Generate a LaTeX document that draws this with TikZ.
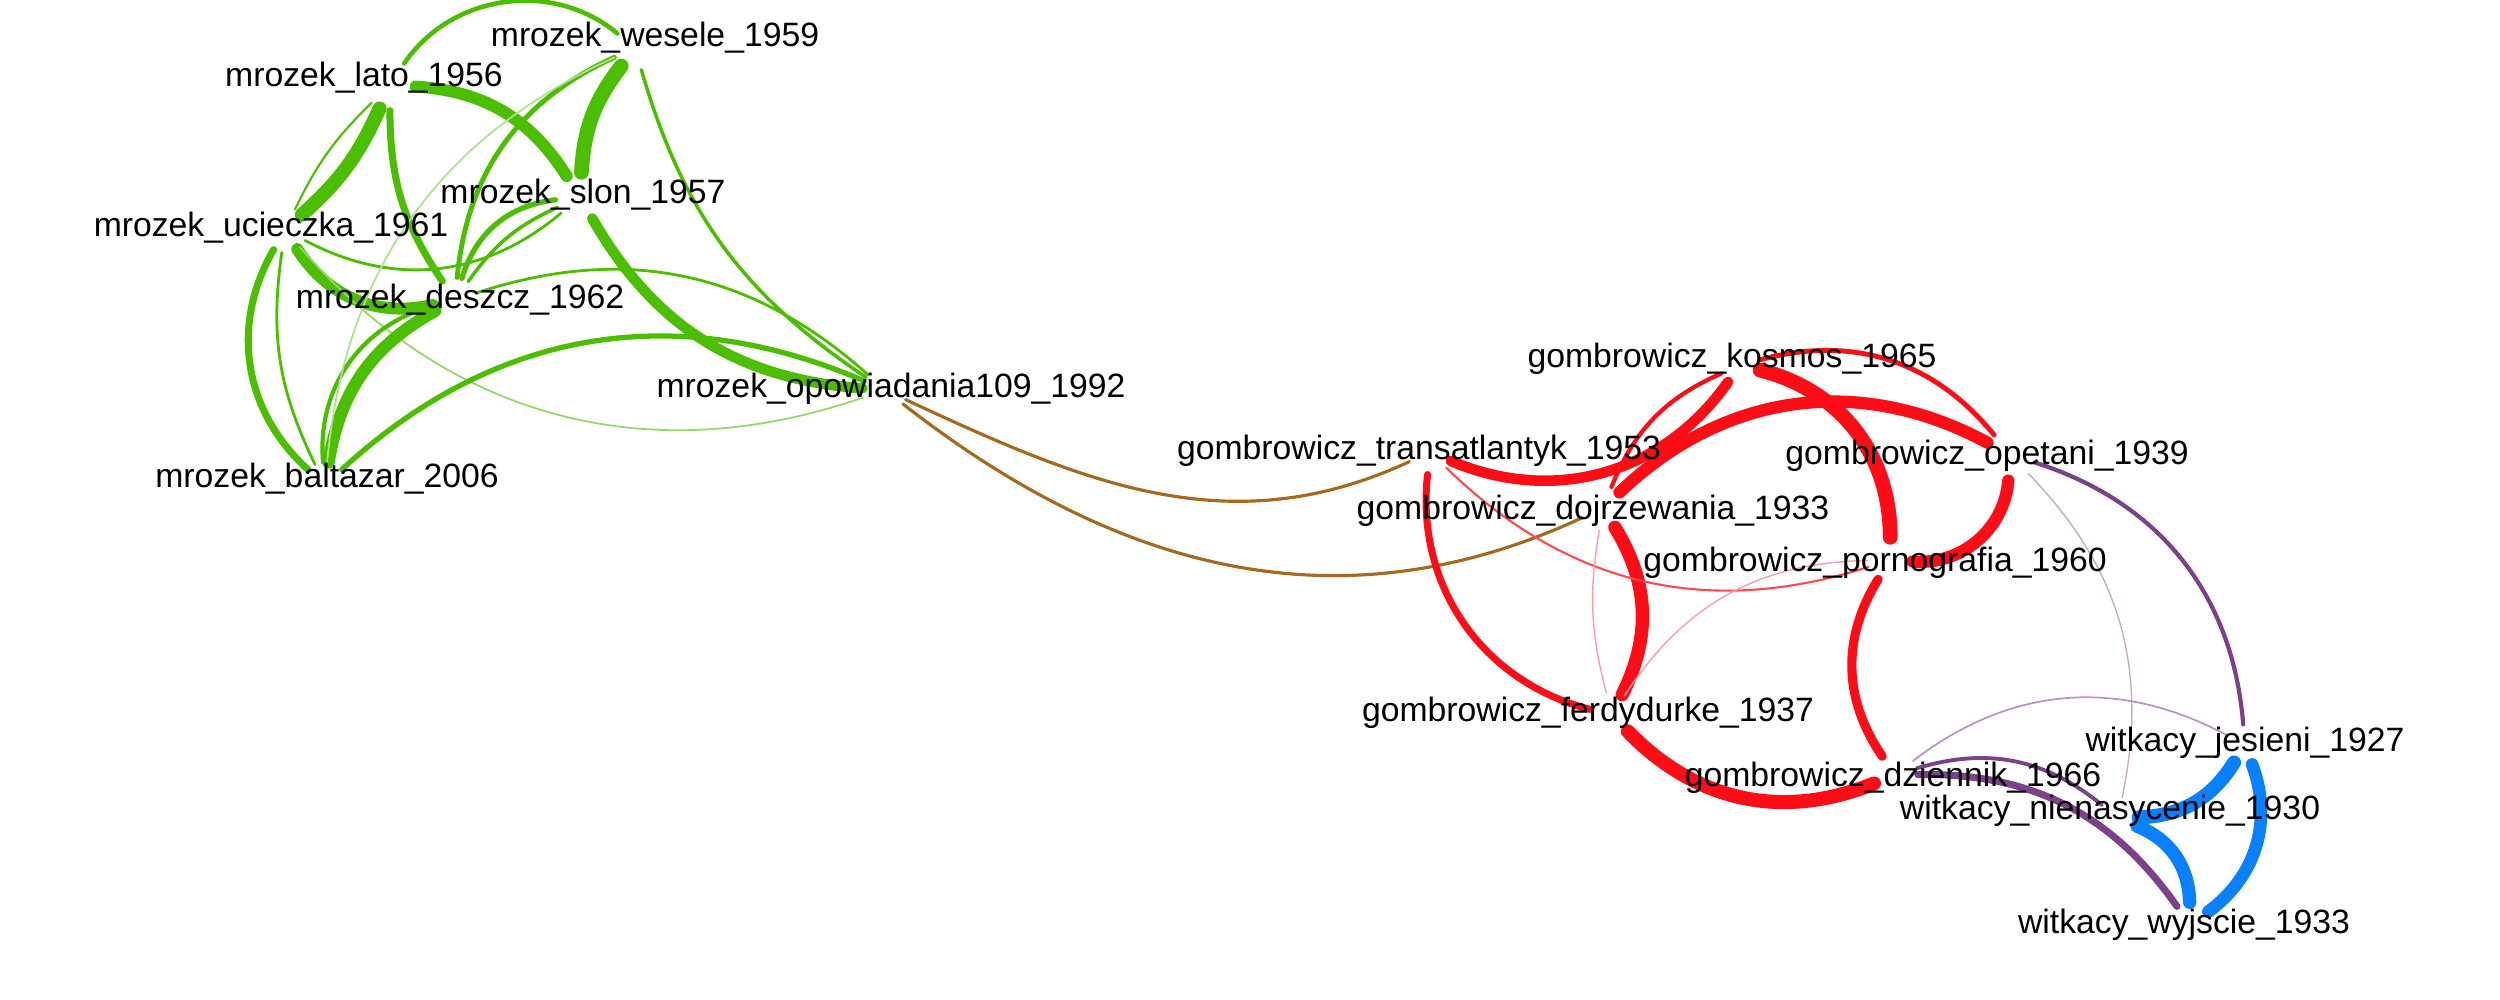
\documentclass[tikz,border=0pt]{standalone}
\usepackage{fontspec}
\setmainfont{Liberation Sans}
\usetikzlibrary{positioning}
\definecolor{mgreen}{RGB}{76,190,0}
\definecolor{gred}{RGB}{255,13,23}
\definecolor{linkbrown}{RGB}{166,105,30}
\definecolor{wpurple}{RGB}{125,65,140}
\definecolor{wblue}{RGB}{10,128,255}
\tikzset{lbl/.style={font=\fontsize{9.6}{11}\selectfont, inner sep=0pt},
    vtx/.style={circle, inner sep=0pt, minimum size=#1}, vtx/.default=0.44cm}

\begin{document}
\begin{tikzpicture}[line cap=round]
    \useasboundingbox (0,0) rectangle (25,-10);
    \path (6.35,-0.48) node [vtx] (wesele) {} (3.90,-0.85) node [vtx=0.5cm] (lato) {}
	(5.80,-1.97) node [vtx=0.48cm] (slon) {} (2.85,-2.30) node [vtx] (ucieczka) {}
	(4.55,-3.00) node [vtx] (deszcz) {} (8.85,-3.90) node [vtx] (opow) {}
	(3.25,-4.85) node [vtx] (baltazar) {};
    \path (17.40,-3.65) node [vtx=0.4cm] (kosmos) {} (14.30,-4.52) node [vtx] (trans) {}
	(20.10,-4.55) node [vtx=0.5cm] (opetani) {} (16.03,-5.08) node [vtx] (dojrz) {}
	(18.90,-5.60) node [vtx] (porno) {} (16.12,-7.15) node [vtx] (ferdy) {}
	(18.95,-7.75) node [vtx] (dziennik) {};
    \path (22.45,-7.45) node [vtx=0.4cm] (jesieni) {} (21.18,-8.18) node [vtx=0.4cm] (nienas) {}
	(21.90,-9.25) node [vtx] (wyjscie) {};

    \draw [mgreen, line width=1.3pt] (lato) to [bend left=48] (wesele);
    \draw [mgreen, line width=3.4pt] (lato) to [bend left=27] (slon);
    \draw [mgreen, line width=4.2pt] (wesele) to [bend right=17] (slon);
    \draw [mgreen, line width=4pt] (lato) to [bend left=12] (ucieczka);
    \draw [mgreen, line width=0.6pt] (ucieczka) to [bend left=10] (lato);
    \draw [mgreen, line width=2pt] (lato) to [bend right=17] (deszcz);
    \draw [mgreen, line width=1.4pt] (wesele) to [bend right=30] (deszcz);
    \draw [mgreen, line width=1pt] (wesele) to [bend right=20] (opow);
    \draw [mgreen, line width=3pt] (slon) to [bend right=28] (opow);
    \draw [mgreen, line width=3.4pt] (ucieczka) to [bend right=35] (deszcz);
    \draw [mgreen, line width=0.8pt] (ucieczka) to [bend right=34] (slon);
    \draw [mgreen, line width=1.5pt] (deszcz) to [bend left=33] (slon);
    \draw [mgreen, line width=1pt] (deszcz) to [bend left=15] (slon);
    \draw [mgreen, line width=0.8pt] (deszcz) to [bend left=30] (opow);
    \draw [mgreen!60, line width=0.5pt] (ucieczka) to [bend right=34] (opow);
    \draw [mgreen, line width=1.5pt] (baltazar) to [bend left=33] (opow);
    \draw [mgreen, line width=3.5pt] (baltazar) to [bend left=26] (deszcz);
    \draw [mgreen, line width=1.2pt] (baltazar) to [bend left=40] (deszcz);
    \draw [mgreen!45, line width=0.5pt] (baltazar) to [bend left=30] (wesele);
    \draw [mgreen, line width=2pt] (ucieczka) to [bend right=39] (baltazar);
    \draw [mgreen, line width=0.8pt] (ucieczka) to [bend right=17] (baltazar);

    \draw [linkbrown, line width=0.9pt] (opow) to [out=-25, in=-155] (trans);
    \draw [linkbrown, line width=0.9pt] (opow) to [out=-38, in=-155] (dojrz);

    \draw [gred, line width=3pt] (trans) to [bend right=39] (kosmos);
    \draw [gred, line width=1.2pt] (dojrz) to [bend left=22] (kosmos);
    \draw [gred, line width=3.5pt] (dojrz) to [bend left=36] (opetani);
    \draw [gred, line width=4.2pt] (kosmos) to [bend left=38] (porno);
    \draw [gred, line width=1.4pt] (kosmos) to [bend left=33] (opetani);
    \draw [gred, line width=3.5pt] (opetani) to [bend left=45] (porno);
    \draw [gred, line width=2pt] (trans) to [bend right=41] (ferdy);
    \draw [gred, line width=3.8pt] (dojrz) to [bend left=29] (ferdy);
    \draw [gred!75, line width=0.6pt] (trans) to [bend right=31] (porno);
    \draw [gred!40, line width=0.4pt] (ferdy) to [bend left=28] (porno);
    \draw [gred!40, line width=0.4pt] (ferdy) to [bend left=12] (dojrz);
    \draw [gred, line width=2.6pt] (porno) to [bend right=33] (dziennik);
    \draw [gred, line width=4pt] (ferdy) to [bend right=34] (dziennik);

    \draw [wpurple, line width=1.2pt] (opetani) to [bend left=34] (jesieni);
    \draw [wpurple!45, line width=0.4pt] (opetani) to [bend left=28] (nienas);
    \draw [wpurple!55, line width=0.5pt] (dziennik) to [bend left=33] (jesieni);
    \draw [wpurple, line width=1.1pt] (dziennik) to [bend left=28] (nienas);
    \draw [wpurple, line width=2pt] (dziennik) to [bend left=28] (wyjscie);

    \draw [wblue, line width=4pt] (jesieni) to [bend left=28] (nienas);
    \draw [wblue, line width=3.8pt] (nienas) to [bend left=33] (wyjscie);
    \draw [wblue, line width=3.6pt] (jesieni) to [bend left=37] (wyjscie);

    \path (6.55,-0.38) node [lbl] (wesele-t) {mrozek\_wesele\_1959};
    \path (3.64,-0.78) node [lbl] (lato-t) {mrozek\_lato\_1956};
    \path (5.83,-1.95) node [lbl] (slon-t) {mrozek\_slon\_1957};
    \path (2.71,-2.28) node [lbl] (ucieczka-t) {mrozek\_ucieczka\_1961};
    \path (4.60,-3.00) node [lbl] (deszcz-t) {mrozek\_deszcz\_1962};
    \path (8.91,-3.89) node [lbl] (opow-t) {mrozek\_opowiadania109\_1992};
    \path (3.27,-4.79) node [lbl] (baltazar-t) {mrozek\_baltazar\_2006};
    \path (17.32,-3.59) node [lbl] (kosmos-t) {gombrowicz\_kosmos\_1965};
    \path (14.19,-4.51) node [lbl] (trans-t) {gombrowicz\_transatlantyk\_1953};
    \path (19.87,-4.56) node [lbl] (opetani-t) {gombrowicz\_opetani\_1939};
    \path (15.93,-5.11) node [lbl] (dojrz-t) {gombrowicz\_dojrzewania\_1933};
    \path (18.75,-5.63) node [lbl] (porno-t) {gombrowicz\_pornografia\_1960};
    \path (15.88,-7.13) node [lbl] (ferdy-t) {gombrowicz\_ferdydurke\_1937};
    \path (18.93,-7.78) node [lbl] (dziennik-t) {gombrowicz\_dziennik\_1966};
    \path (22.45,-7.43) node [lbl] (jesieni-t) {witkacy\_jesieni\_1927};
    \path (21.10,-8.11) node [lbl] (nienas-t) {witkacy\_nienasycenie\_1930};
    \path (21.84,-9.25) node [lbl] (wyjscie-t) {witkacy\_wyjscie\_1933};
\end{tikzpicture}
\end{document}
